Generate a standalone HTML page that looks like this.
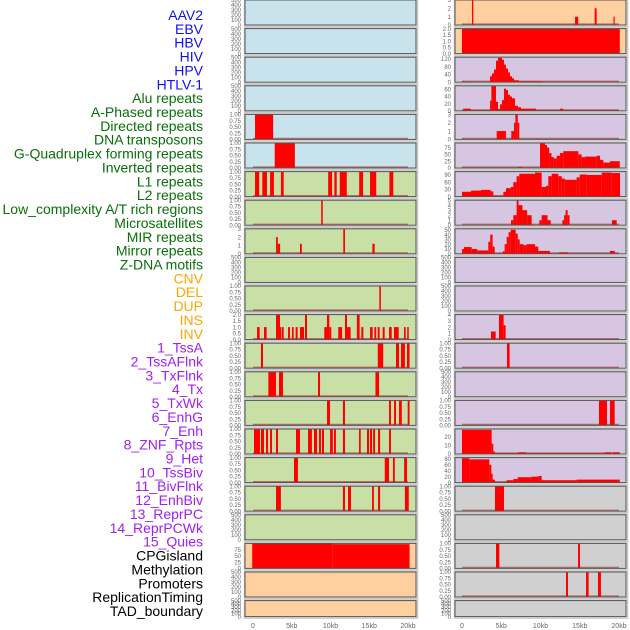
<!DOCTYPE html>
<html><head><meta charset="utf-8"><style>
html,body{margin:0;padding:0;background:#fff;}
svg{display:block;font-family:"Liberation Sans",sans-serif;}
</style></head><body>
<svg id="c" width="630" height="630" viewBox="0 0 630 630"></svg>
<script>
const trackLabels=["AAV2","EBV","HBV","HIV","HPV","HTLV-1","Alu repeats","A-Phased repeats","Directed repeats","DNA transposons","G-Quadruplex forming repeats","Inverted repeats","L1 repeats","L2 repeats","Low_complexity A/T rich regions","Microsatellites","MIR repeats","Mirror repeats","Z-DNA motifs","CNV","DEL","DUP","INS","INV","1_TssA","2_TssAFlnk","3_TxFlnk","4_Tx","5_TxWk","6_EnhG","7_Enh","8_ZNF_Rpts","9_Het","10_TssBiv","11_BivFlnk","12_EnhBiv","13_ReprPC","14_ReprPCWk","15_Quies","CPGisland","Methylation","Promoters","ReplicationTiming","TAD_boundary"];
const labelGroups=[6,13,5,15,5];
const groupColors=["#1010ee","#0a6e0a","#ffa500","#a020f0","#000000"];
const xTicks=[0,5,10,15,20];
const xTickLabels=["0","5kb","10kb","15kb","20kb"];
const T500=[0,100,200,300,400,500], L500=["0","100","200","300","400","500"];
const T1=[0,0.25,0.5,0.75,1], L1=["0.00","0.25","0.50","0.75","1.00"];
const T3=[0,1,2,3], L3=["0","1","2","3"];
const T2=[0,0.5,1,1.5,2], L2=["0.0","0.5","1.0","1.5","2.0"];
const leftBg=["#c9e3ec","#c9e3ec","#c9e3ec","#c9e3ec","#c9e3ec","#c9e3ec","#c8e0a5","#c8e0a5","#c8e0a5","#c8e0a5","#c8e0a5","#c8e0a5","#c8e0a5","#c8e0a5","#c8e0a5","#c8e0a5","#c8e0a5","#c8e0a5","#c8e0a5","#fecf9f","#fecf9f","#fecf9f"];
const rightBg=["#fecf9f","#fecf9f","#d6c6e2","#d6c6e2","#d6c6e2","#d6c6e2","#d6c6e2","#d6c6e2","#d6c6e2","#d6c6e2","#d6c6e2","#d6c6e2","#d6c6e2","#d6c6e2","#d6c6e2","#d6c6e2","#d6c6e2","#d0d0d0","#d0d0d0","#d0d0d0","#d0d0d0","#d0d0d0"];
const leftMax=[500,500,500,500,1,1,1,1,3,500,1,2,1,1,1,1,1,1,500,100,500,500];
const leftTicks=[T500,T500,T500,T500,T1,T1,T1,T1,T3,T500,T1,T2,T1,T1,T1,T1,T1,T1,T500,[0,25,50,75],T500,T500];
const leftTickLabels=[L500,L500,L500,L500,L1,L1,L1,L1,L3,L500,L1,L2,L1,L1,L1,L1,L1,L1,L500,["0","25","50","75"],L500,L500];
const leftSegs=[[],[],[],[],
[[0.26,2.6,1]],
[[2.8,5.4,1]],
[[0.26,0.8,1],[1.2,1.8,1],[2.2,2.7,1],[3.6,3.96,1],[9.7,10.2,1],[10.5,10.8,1],[11.2,12.1,1],[13.7,14.2,1],[15.1,15.9,1],[17.6,18.1,1]],
[[8.8,9.0,1]],
[[2.97,3.2,2],[3.2,3.5,1.2],[6.06,6.3,1.2],[11.65,11.87,3],[15.4,15.7,1.2]],
[],
[[16.3,16.5,1]],
[[0.52,0.86,1],[1.42,1.76,1],[2.97,3.48,2],[3.48,3.66,1],[3.74,3.96,1],[4.52,4.77,1],[5.03,5.25,1],[5.5,5.76,1],[6.06,6.58,1],[6.71,6.97,2],[9.2,9.55,1],[9.55,9.85,2],[9.85,10.1,1],[11.0,11.5,1],[11.87,12.13,2],[12.13,12.6,1],[13.4,13.76,2],[13.98,14.24,1],[15.1,15.44,1],[15.66,15.9,1],[16.09,16.34,1],[16.73,16.99,1],[17.55,17.9,1],[18.19,18.8,1],[19.48,19.7,1],[19.9,20.1,1]],
[[1.03,1.29,1],[16.1,16.8,1],[18.45,18.84,1],[19.1,19.6,1],[19.87,20.2,1]],
[[1.98,2.97,1],[3.35,3.87,1],[8.39,8.65,1],[15.8,16.26,1]],
[[9.55,9.94,1],[11.6,11.87,1],[17.55,17.8,1],[18.2,18.45,1],[18.84,19.2,1],[19.96,20.2,1]],
[[0.13,0.9,1],[1.03,1.42,1],[1.68,1.94,1],[2.2,2.45,1],[2.97,3.23,1],[5.55,6.06,1],[7.1,7.6,1],[7.87,8.26,1],[8.52,8.77,1],[8.9,9.16,1],[9.94,10.3,1],[10.45,10.7,1],[11.6,11.87,1],[13.68,13.9,1],[14.71,14.97,1],[15.1,15.36,1],[15.5,15.75,1],[16.13,16.4,1],[17.55,17.8,1]],
[[5.29,5.8,1],[17.0,17.55,1],[18.06,18.3,1],[19.5,19.87,1]],
[[2.97,3.6,1],[11.6,11.87,1],[12.26,12.65,1],[15.36,15.6,1],[16.13,16.4,1],[19.6,20.1,1]],
[],
[[-0.1,10.3,100],[10.3,20.2,97]],
[],[]];
const rightMax=[3,2,128,70,3,92,104,5,52,500,500,4,1,500,1,29,84,1,500,1,1,500];
const rightTicks=[T3,T2,[0,40,80,120],[0,20,40,60],T3,[0,25,50,75],[0,30,60,90],[0,1,2,3,4,5],[0,10,20,30,40,50],T500,T500,[0,1,2,3,4],T1,T500,T1,[0,10,20],[0,20,40,60,80],T1,T500,T1,T1,T500];
const rightTickLabels=[L3,L2,["0","40","80","120"],["0","20","40","60"],L3,["0","25","50","75"],["0","30","60","90"],["0","1","2","3","4","5"],["0","10","20","30","40","50"],L500,L500,["0","1","2","3","4"],L1,L500,L1,["0","10","20"],["0","20","40","60","80"],L1,L500,L1,L1,L500];
const rightSegs=[
[[1.27,1.44,3],[14.4,14.8,1],[16.9,17.15,2],[19.3,19.45,1]],
[[0,20.1,2]],
[[0,0.38,5],[0.38,3.57,2],[3.57,3.82,30],[3.82,4.08,45],[4.08,4.33,65],[4.33,4.59,110],[4.59,5.1,125],[5.1,5.35,115],[5.35,5.6,90],[5.6,5.86,70],[5.86,6.11,50],[6.11,6.37,30],[6.37,6.62,20],[6.62,7.26,10],[7.26,10.15,5],[10.15,19.9,2]],
[[0.17,1.1,6],[1.1,3.57,2],[3.57,3.74,28],[3.74,4.33,70],[4.33,4.59,25],[4.59,4.84,5],[4.84,5.1,18],[5.1,5.35,30],[5.35,5.6,62],[5.6,5.86,58],[5.86,6.11,45],[6.11,6.37,40],[6.37,6.75,35],[6.75,7.13,14],[7.13,7.52,10],[7.52,9.43,6],[9.43,12.48,2],[12.48,12.9,6],[12.9,19.9,2]],
[[0.1,4.42,0.05],[4.42,5.6,1],[6.28,6.62,1],[6.62,6.8,2],[6.8,7.1,3],[7.1,7.3,2]],
[[7.18,7.7,4],[9.94,10.57,90],[10.57,10.83,85],[10.83,11.1,75],[11.1,11.4,55],[11.4,11.7,40],[11.7,12.06,35],[12.06,12.48,45],[12.48,12.9,55],[12.9,14.82,62],[14.82,15.24,50],[15.24,15.67,40],[15.67,17.15,42],[17.15,17.58,45],[17.58,18.0,30],[18.0,18.85,20],[18.85,20.1,25]],
[[0,1.15,20],[1.15,2.42,25],[2.42,3.65,28],[3.65,3.99,22],[3.99,5.27,3],[5.27,5.6,20],[5.6,6.2,35],[6.2,6.54,40],[6.54,6.96,60],[6.96,7.3,85],[7.3,9.3,95],[9.3,10.15,100],[10.15,10.7,40],[10.7,11.0,45],[11.0,11.42,85],[11.42,12.27,95],[12.27,12.7,85],[12.7,13.1,75],[13.1,14.6,70],[14.6,15.0,80],[15.0,15.9,92],[15.9,17.8,90],[17.8,19.07,100],[19.07,20.13,98]],
[[6.24,6.54,1],[6.54,6.96,2],[6.96,7.2,5],[7.2,7.7,4],[7.7,8.3,3],[8.3,8.87,2],[9.85,10.15,1],[10.15,10.9,2],[10.9,11.3,1],[12.78,13.0,1],[13.0,13.2,2],[13.2,13.46,3],[13.46,13.7,2],[19.1,19.7,1]],
[[0,0.25,10],[0.25,1.23,14],[1.23,1.95,10],[1.95,3.35,7],[3.35,3.6,25],[3.6,3.9,40],[3.9,4.16,15],[5.18,5.43,5],[5.43,5.69,20],[5.69,5.94,35],[5.94,6.2,45],[6.2,6.84,50],[6.84,7.1,42],[7.1,7.35,30],[7.35,7.86,20],[7.86,8.24,18],[8.24,9.3,20],[9.3,9.72,15],[9.72,11.2,6],[12.36,13.46,3],[18.85,19.45,6]],
[],[],
[[3.69,4.29,1.3],[4.71,5.3,4],[5.3,5.56,2.3]],
[[5.73,6.07,1]],
[],
[[17.45,18.47,1],[18.85,19.45,1]],
[[0,3.78,28],[3.78,3.99,12],[3.99,4.2,3],[4.2,7.1,1],[7.1,8.15,2],[8.15,18.2,1],[18.2,19.07,2],[19.2,20.1,2]],
[[0,0.93,82],[0.93,3.48,78],[3.48,3.74,60],[3.74,3.91,30],[3.91,4.2,10],[5.48,5.69,3],[5.69,6.54,8],[6.54,7.09,12],[7.09,8.87,18],[8.87,9.72,20],[9.72,10.15,22],[10.15,14.6,8],[14.6,20.1,10]],
[[4.2,5.35,1]],
[],
[[4.33,4.76,1],[14.78,15.03,1]],
[[13.25,13.5,1],[15.8,16.13,1],[17.32,17.7,1]],
[]];

const NS="http://www.w3.org/2000/svg";
const svg=document.getElementById('c');
function mk(tag,attrs,parent){const e=document.createElementNS(NS,tag);for(const k in attrs)e.setAttribute(k,attrs[k]);(parent||svg).appendChild(e);return e;}
function rowTop(i){return i*28.6;}
function rowH(i){return i===21?16:25;}
const cols=[{x0:245,x1:416,z:253,k:7.75,bg:leftBg,max:leftMax,ticks:leftTicks,tl:leftTickLabels,segs:leftSegs,name:'left'},
            {x0:455,x1:626,z:462,k:7.85,bg:rightBg,max:rightMax,ticks:rightTicks,tl:rightTickLabels,segs:rightSegs,name:'right'}];
// labels
let gi=0,gc=0;
trackLabels.forEach((t,i)=>{
  while(gc>=labelGroups[gi]){gi++;gc=0;}
  gc++;
  const e=mk('text',{x:203,y:15+i*13.86+5,'text-anchor':'end','font-size':14,fill:groupColors[gi]});
  e.textContent=t;
  
  
});
cols.forEach(c=>{
  const xs=v=>c.z+v*c.k;
  for(let i=0;i<22;i++){
    const top=rowTop(i),h=rowH(i),bot=top+h;
    const ys=v=>bot-Math.max(0,Math.min(1,v/c.max[i]))*h;
    const g=mk('g',{});
    
    
    mk('rect',{x:c.x0-0.5,y:top-0.5,width:c.x1-c.x0+2,height:h+2,fill:'none',stroke:'#c8c8c8','stroke-width':1.5},g);
    mk('rect',{x:c.x0,y:top,width:c.x1-c.x0,height:h,fill:c.bg[i]},g);
    const segs=c.segs[i];
    if(segs.length){
      mk('line',{x1:xs(0),x2:xs(20),y1:bot-0.8,y2:bot-0.8,stroke:'rgba(170,60,60,0.7)','stroke-width':1.6},g);
    }
    segs.forEach(s=>{
      const x1=Math.max(c.x0,xs(s[0])),x2=Math.min(c.x1,xs(s[1]));
      const b=mk('rect',{x:x1,y:ys(s[2]),width:Math.max(1.2,x2-x1),height:bot-ys(s[2]),fill:'#ff0000'},g);
      
      
    });
    mk('rect',{x:c.x0,y:top,width:c.x1-c.x0,height:h,fill:'none',stroke:'#555','stroke-width':1},g);
    c.ticks[i].forEach((tv,j)=>{
      const e=mk('text',{x:c.x0-4,y:ys(tv)+2.2,'text-anchor':'end','font-size':6,fill:'#666'},g);
      e.textContent=c.tl[i][j];
      
      
    });
  }
  xTicks.forEach((v,j)=>{
    const e=mk('text',{x:xs(v),y:628,'text-anchor':'middle','font-size':7,fill:'#666'});
    e.textContent=xTickLabels[j];
    
    
  });
});
</script>
</body></html>
